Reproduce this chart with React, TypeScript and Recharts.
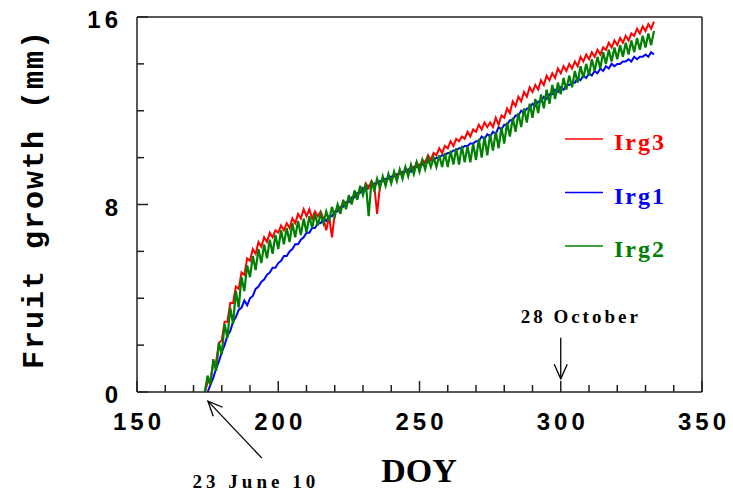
import React from 'react';
import { LineChart, Line, XAxis, YAxis, ReferenceLine, Legend } from 'recharts';

// ---- data ----
const irg3Start = 174;
const irg3Values = [
  0.0, 0.4, 0.5, 1.2, 1.3, 2.1, 2.2, 3.0, 3.0, 3.8,
  3.8, 4.5, 4.4, 5.1, 5.0, 5.7, 5.6, 6.1, 5.9, 6.4,
  6.2, 6.6, 6.4, 6.8, 6.6, 6.9, 6.8, 7.1, 6.9, 7.2,
  7.0, 7.4, 7.2, 7.6, 7.4, 7.8, 7.5, 7.8, 7.4, 7.7,
  7.5, 7.7, 7.4, 6.9, 7.5, 6.6, 7.6, 7.9, 7.8, 8.1,
  8.0, 8.3, 8.1, 8.5, 8.3, 8.7, 8.5, 8.9, 8.7, 9.0,
  8.8, 7.6, 8.8, 9.1, 8.9, 9.2, 9.0, 9.3, 9.2, 9.4,
  9.3, 9.5, 9.4, 9.6, 9.5, 9.8, 9.6, 9.9, 9.8, 10.1,
  9.9, 10.2, 10.1, 10.4, 10.2, 10.5, 10.4, 10.7, 10.5, 10.8,
  10.7, 10.9, 10.8, 11.1, 10.9, 11.2, 11.1, 11.4, 11.2, 11.5,
  11.3, 11.5, 11.3, 11.7, 11.4, 11.8, 11.7, 12.1, 11.9, 12.4,
  12.2, 12.6, 12.4, 12.8, 12.6, 13.0, 12.8, 13.1, 12.9, 13.3,
  13.1, 13.5, 13.3, 13.6, 13.4, 13.8, 13.6, 13.9, 13.7, 14.0,
  13.8, 14.1, 13.9, 14.3, 14.1, 14.4, 14.2, 14.5, 14.3, 14.6,
  14.4, 14.7, 14.6, 14.9, 14.7, 15.0, 14.8, 15.1, 14.9, 15.2,
  15.0, 15.3, 15.2, 15.5, 15.3, 15.6, 15.4, 15.7, 15.5, 15.8,
];

const irg1Start = 175;
const irg1Values = [
  0.0, 0.3, 0.6, 1.0, 1.3, 1.7, 2.0, 2.4, 2.6, 3.0,
  3.2, 3.5, 3.6, 3.9, 3.7, 4.0, 4.1, 4.4, 4.5, 4.7,
  4.8, 5.0, 5.1, 5.3, 5.3, 5.5, 5.6, 5.8, 5.8, 6.0,
  6.1, 6.3, 6.3, 6.5, 6.6, 6.8, 6.8, 7.0, 7.0, 7.2,
  7.2, 7.4, 7.3, 7.5, 7.5, 7.7, 7.7, 7.9, 7.9, 8.1,
  8.1, 8.3, 8.3, 8.5, 8.5, 8.7, 8.6, 8.8, 8.8, 8.9,
  8.9, 9.0, 9.0, 9.1, 9.1, 9.2, 9.2, 9.3, 9.3, 9.4,
  9.4, 9.5, 9.4, 9.6, 9.6, 9.7, 9.7, 9.8, 9.8, 9.9,
  9.9, 10.0, 10.0, 10.1, 10.1, 10.2, 10.2, 10.3, 10.3, 10.4,
  10.4, 10.5, 10.5, 10.6, 10.6, 10.7, 10.7, 10.9, 10.8, 11.0,
  10.9, 11.1, 11.0, 11.3, 11.2, 11.4, 11.4, 11.6, 11.6, 11.8,
  11.8, 12.0, 11.9, 12.1, 12.1, 12.3, 12.2, 12.4, 12.4, 12.6,
  12.5, 12.7, 12.7, 12.9, 12.8, 13.0, 12.9, 13.1, 13.1, 13.2,
  13.2, 13.4, 13.3, 13.5, 13.4, 13.6, 13.5, 13.7, 13.6, 13.8,
  13.7, 13.9, 13.8, 14.0, 13.9, 14.0, 14.0, 14.1, 14.1, 14.2,
  14.1, 14.3, 14.2, 14.3, 14.3, 14.4, 14.3, 14.5, 14.4,
];

const irg2Start = 174;
const irg2Values = [
  0.0, 0.7, 0.3, 1.4, 0.9, 2.1, 1.6, 2.9, 2.3, 3.6,
  2.9, 4.3, 3.6, 4.9, 4.3, 5.4, 4.9, 5.8, 5.2, 6.1,
  5.5, 6.3, 5.7, 6.5, 5.9, 6.7, 6.1, 6.9, 6.3, 7.0,
  6.4, 7.2, 6.6, 7.3, 6.7, 7.4, 6.8, 7.5, 7.0, 7.6,
  7.1, 7.6, 7.2, 7.7, 7.3, 7.9, 7.5, 8.0, 7.6, 8.2,
  7.8, 8.4, 8.0, 8.6, 8.2, 8.8, 8.4, 8.9, 7.5, 9.0,
  8.6, 9.1, 8.7, 9.2, 8.8, 9.3, 8.9, 9.4, 9.0, 9.5,
  9.1, 9.6, 9.2, 9.7, 9.3, 9.8, 9.4, 9.9, 9.5, 10.0,
  9.6, 10.0, 9.6, 10.1, 9.6, 10.2, 9.6, 10.3, 9.7, 10.4,
  9.7, 10.5, 9.8, 10.5, 9.8, 10.6, 9.9, 10.8, 10.0, 10.9,
  10.1, 11.0, 10.3, 11.1, 10.4, 11.3, 10.6, 11.5, 10.9, 11.7,
  11.1, 11.9, 11.3, 12.1, 11.5, 12.3, 11.7, 12.5, 11.9, 12.7,
  12.1, 12.9, 12.3, 13.1, 12.5, 13.2, 12.7, 13.4, 12.9, 13.5,
  13.0, 13.7, 13.2, 13.9, 13.4, 14.0, 13.5, 14.2, 13.7, 14.3,
  13.8, 14.5, 14.0, 14.6, 14.1, 14.7, 14.2, 14.8, 14.3, 14.9,
  14.4, 15.0, 14.5, 15.1, 14.6, 15.2, 14.7, 15.3, 14.8, 15.4,
];

const xTicks = [150, 160, 170, 180, 190, 200, 210, 220, 230, 240, 250, 260, 270, 280, 290, 300, 310, 320, 330, 340, 350];
const xLabelTicks = [150, 200, 250, 300, 350];
const yTicks = [0, 2, 4, 6, 8, 10, 12, 14, 16];
const yLabelTicks = [0, 8, 16];

const legendItems = [
  { name: 'Irg3', color: '#ff0000' },
  { name: 'Irg1', color: '#0000ff' },
  { name: 'Irg2', color: '#008000' },
];

// annotations: [tail, tip] in data coordinates
const juneArrow = [{ x: 194.2, y: -2.82 }, { x: 175.1, y: -0.39 }];
const octArrow = [{ x: 300, y: 2.31 }, { x: 300, y: 0.56 }];

const toSeries = (start: number, vals: number[]) => vals.map((v, i) => ({ doy: start + i, v }));
const irg3Data = toSeries(irg3Start, irg3Values);
const irg1Data = toSeries(irg1Start, irg1Values);
const irg2Data = toSeries(irg2Start, irg2Values);

const AXIS = '#222';

const XTick = (props: any) => {
  const { x, y, payload } = props;
  const v = payload.value;
  const major = xLabelTicks.includes(v);
  return (
    <g>
      <line x1={x} y1={y} x2={x} y2={y - (major ? 11 : 7)} stroke={AXIS} strokeWidth={1.5} />
      {major && (
        <text x={x + 2} y={y + 38} textAnchor="middle" fill="#000"
          style={{ fontFamily: 'Liberation Sans, Arial, sans-serif', fontWeight: 'bold', fontSize: 24, letterSpacing: '4px' }}>
          {v}
        </text>
      )}
    </g>
  );
};

const YTick = (props: any) => {
  const { x, y, payload } = props;
  const v = payload.value;
  const major = yLabelTicks.includes(v);
  return (
    <g>
      <line x1={x} y1={y} x2={x + (major ? 11 : 7)} y2={y} stroke={AXIS} strokeWidth={1.5} />
      {major && (
        <text x={x - 15} y={y + 11} textAnchor="end" fill="#000"
          style={{ fontFamily: 'Liberation Sans, Arial, sans-serif', fontWeight: 'bold', fontSize: 24, letterSpacing: '4px' }}>
          {v}
        </text>
      )}
    </g>
  );
};

const makeArrow = (label: string, dx: number, dy: number, spacing: number) => (p: any) => {
  const { x1, y1, x2, y2 } = p;
  const ang = Math.atan2(y2 - y1, x2 - x1);
  const L = 16;
  const a = 0.42;
  const hx1 = x2 - L * Math.cos(ang - a);
  const hy1 = y2 - L * Math.sin(ang - a);
  const hx2 = x2 - L * Math.cos(ang + a);
  const hy2 = y2 - L * Math.sin(ang + a);
  return (
    <g>
      <line x1={x1} y1={y1} x2={x2} y2={y2} stroke="#000" strokeWidth={1.3} />
      <polyline points={`${hx1},${hy1} ${x2},${y2} ${hx2},${hy2}`} fill="none" stroke="#000" strokeWidth={1.3} />
      <text x={x1 + dx} y={y1 + dy} textAnchor="middle" fill="#000"
        style={{ fontFamily: 'Liberation Serif, Times New Roman, serif', fontWeight: 'bold', fontSize: 19, letterSpacing: `${spacing}px` }}>
        {label}
      </text>
    </g>
  );
};

const renderLegend = () => (
  <svg width={130} height={150} style={{ overflow: 'visible' }}>
    {legendItems.map((it, i) => {
      const ly = 19 + i * 53.5;
      return (
        <g key={it.name}>
          <line x1={5} y1={ly} x2={43} y2={ly} stroke={it.color} strokeWidth={1.3} />
          <text x={54} y={ly + 11} fill={it.color}
            style={{ fontFamily: 'Liberation Serif, Times New Roman, serif', fontWeight: 'bold', fontSize: 24, letterSpacing: '2px' }}>
            {it.name}
          </text>
        </g>
      );
    })}
  </svg>
);

export default function App() {
  return (
    <div style={{ position: 'absolute', left: 0, top: 0, width: 733, height: 497, background: '#fff' }}>
      <LineChart width={733} height={497} margin={{ top: 16, right: 30, bottom: 75, left: 0 }}>
        <XAxis dataKey="doy" type="number" domain={[150, 350]} ticks={xTicks} allowDataOverflow
          interval={0} tickSize={0} tickMargin={0} tickLine={false} height={30}
          axisLine={{ stroke: AXIS, strokeWidth: 1.5 }} tick={<XTick />} />
        <XAxis xAxisId="top" orientation="top" type="number" domain={[150, 350]} height={1}
          tick={false} tickLine={false} axisLine={{ stroke: AXIS, strokeWidth: 1.5 }} />
        <YAxis type="number" domain={[0, 16]} ticks={yTicks} allowDataOverflow interval={0}
          width={137} tickSize={0} tickMargin={0} tickLine={false}
          axisLine={{ stroke: AXIS, strokeWidth: 1.5 }} tick={<YTick />} />
        <YAxis yAxisId="right" orientation="right" type="number" domain={[0, 16]} width={1}
          tick={false} tickLine={false} axisLine={{ stroke: AXIS, strokeWidth: 1.5 }} />
        <Legend layout="horizontal" verticalAlign="middle" align="center"
          wrapperStyle={{ left: 560, top: 120, width: 130, height: 150 }} content={renderLegend} />
        <Line data={irg1Data} dataKey="v" name="Irg1" stroke="#0000ff" strokeWidth={2} dot={false}
          isAnimationActive={false} type="linear" />
        <Line data={irg3Data} dataKey="v" name="Irg3" stroke="#ff0000" strokeWidth={2} dot={false}
          isAnimationActive={false} type="linear" />
        <Line data={irg2Data} dataKey="v" name="Irg2" stroke="#008000" strokeWidth={2.2} dot={false}
          isAnimationActive={false} type="linear" />
        <ReferenceLine segment={juneArrow} ifOverflow="visible" shape={makeArrow('23 June 10', -6, 30, 4)} />
        <ReferenceLine segment={octArrow} ifOverflow="visible" shape={makeArrow('28 October', 20, -15, 3)} />
      </LineChart>
      <svg width={733} height={497} style={{ position: 'absolute', left: 0, top: 0, pointerEvents: 'none' }}>
        <text transform="translate(43,199) rotate(-90)" textAnchor="middle" fill="#000"
          style={{ fontFamily: 'Liberation Mono, Courier New, monospace', fontWeight: 'bold', fontSize: 30, letterSpacing: '2px' }}>
          Fruit growth (mm)
        </text>
        <text x={419} y={482} textAnchor="middle" fill="#000"
          style={{ fontFamily: 'Liberation Serif, Times New Roman, serif', fontWeight: 'bold', fontSize: 34 }}>
          DOY
        </text>
      </svg>
    </div>
  );
}
